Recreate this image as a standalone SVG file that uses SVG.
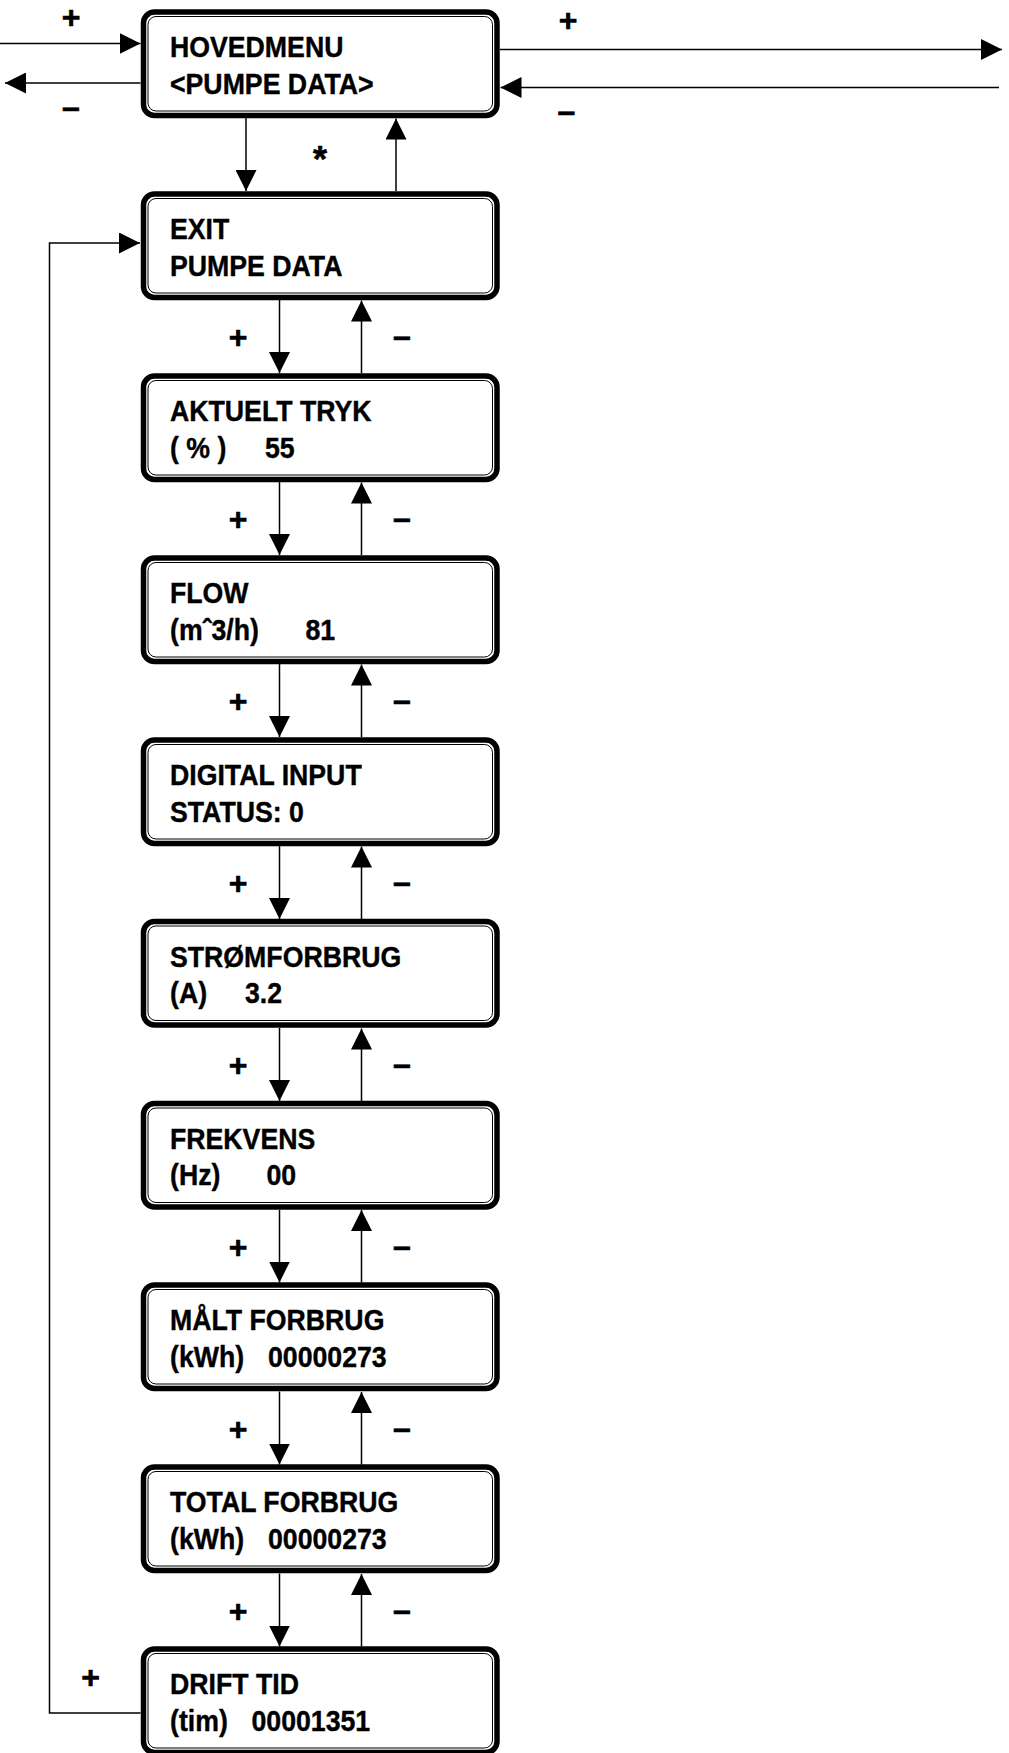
<svg xmlns="http://www.w3.org/2000/svg" width="1009" height="1753" viewBox="0 0 1009 1753">
<style>
.bo{fill:#fff;stroke:#000;stroke-width:5.5}
.bi{fill:none;stroke:#000;stroke-width:1}
.t{font-family:"Liberation Sans",Arial,sans-serif;font-weight:bold;font-size:30px;fill:#000;stroke:#000;stroke-width:0.4}
.l{font-family:"Liberation Sans",Arial,sans-serif;font-weight:bold;font-size:32px;fill:#000;stroke:#000;stroke-width:0.6;text-anchor:middle}
.s{font-size:36px}
.c{fill:none;stroke:#000;stroke-width:1.5;marker-end:url(#ah)}
</style>
<defs>
<marker id="ah" markerUnits="userSpaceOnUse" markerWidth="21" markerHeight="21" refX="21" refY="10.5" orient="auto" viewBox="0 0 21 21">
<path d="M0,0 L21,10.5 L0,21 Z" fill="#000"/>
</marker>
</defs>
<rect width="1009" height="1753" fill="#fff"/>

<g id="connectors">
<line class="c" x1="0" y1="43.5" x2="140.5" y2="43.5"/>
<line class="c" x1="140.5" y1="83" x2="5" y2="83"/>
<line class="c" x1="500" y1="49.5" x2="1002" y2="49.5"/>
<line class="c" x1="999" y1="87.5" x2="500.5" y2="87.5"/>
<line class="c" x1="246" y1="118" x2="246" y2="191"/>
<line class="c" x1="396" y1="191" x2="396" y2="118.5"/>
<path class="c" d="M140.5,1713 H49.5 V243 H140"/>
<line class="c" x1="279.5" y1="300" x2="279.5" y2="373"/>
<line class="c" x1="361.5" y1="373" x2="361.5" y2="300.5"/>
<line class="c" x1="279.5" y1="482" x2="279.5" y2="555"/>
<line class="c" x1="361.5" y1="555" x2="361.5" y2="482.5"/>
<line class="c" x1="279.5" y1="664" x2="279.5" y2="737"/>
<line class="c" x1="361.5" y1="737" x2="361.5" y2="664.5"/>
<line class="c" x1="279.5" y1="846" x2="279.5" y2="919"/>
<line class="c" x1="361.5" y1="919" x2="361.5" y2="846.5"/>
<line class="c" x1="279.5" y1="1028" x2="279.5" y2="1101"/>
<line class="c" x1="361.5" y1="1101" x2="361.5" y2="1028.5"/>
<line class="c" x1="279.5" y1="1210" x2="279.5" y2="1282.5"/>
<line class="c" x1="361.5" y1="1282.5" x2="361.5" y2="1210"/>
<line class="c" x1="279.5" y1="1391.5" x2="279.5" y2="1464.5"/>
<line class="c" x1="361.5" y1="1464.5" x2="361.5" y2="1392"/>
<line class="c" x1="279.5" y1="1573.5" x2="279.5" y2="1646.5"/>
<line class="c" x1="361.5" y1="1646.5" x2="361.5" y2="1574"/>
</g>

<g id="labels">
<text class="l" x="71" y="28">+</text>
<text class="l" x="71" y="117.5">–</text>
<text class="l" x="568" y="31">+</text>
<text class="l" x="566.5" y="121.5">–</text>
<text class="l s" x="320" y="172">*</text>
<text class="l" x="90.5" y="1688">+</text>
<text class="l" x="238" y="348">+</text><text class="l" x="402" y="347">–</text>
<text class="l" x="238" y="530">+</text><text class="l" x="402" y="529">–</text>
<text class="l" x="238" y="712">+</text><text class="l" x="402" y="711">–</text>
<text class="l" x="238" y="893.5">+</text><text class="l" x="402" y="892.5">–</text>
<text class="l" x="238" y="1075.5">+</text><text class="l" x="402" y="1074.5">–</text>
<text class="l" x="238" y="1257.5">+</text><text class="l" x="402" y="1256.5">–</text>
<text class="l" x="238" y="1439.5">+</text><text class="l" x="402" y="1438.5">–</text>
<text class="l" x="238" y="1621.5">+</text><text class="l" x="402" y="1620.5">–</text>
</g>

<g id="n0">
<rect class="bo" x="143.5" y="12" width="353.5" height="103.5" rx="11"/>
<rect class="bi" x="148" y="16.5" width="344.5" height="94.5" rx="8"/>
<text class="t" transform="translate(170 57) scale(.89 1)">HOVEDMENU</text>
<text class="t" transform="translate(170 93.5) scale(.89 1)">&lt;PUMPE DATA&gt;</text>
</g>
<g id="n1">
<rect class="bo" x="143.5" y="194" width="353.5" height="103.5" rx="11"/>
<rect class="bi" x="148" y="198.5" width="344.5" height="94.5" rx="8"/>
<text class="t" transform="translate(170 239) scale(.89 1)">EXIT</text>
<text class="t" transform="translate(170 275.5) scale(.89 1)">PUMPE DATA</text>
</g>
<g id="n2">
<rect class="bo" x="143.5" y="376" width="353.5" height="103.5" rx="11"/>
<rect class="bi" x="148" y="380.5" width="344.5" height="94.5" rx="8"/>
<text class="t" transform="translate(170 421) scale(.89 1)">AKTUELT TRYK</text>
<text class="t" transform="translate(170 457.5) scale(.89 1)">( % )</text>
<text class="t" transform="translate(265 457.5) scale(.89 1)">55</text>
</g>
<g id="n3">
<rect class="bo" x="143.5" y="558" width="353.5" height="103.5" rx="11"/>
<rect class="bi" x="148" y="562.5" width="344.5" height="94.5" rx="8"/>
<text class="t" transform="translate(170 603) scale(.89 1)">FLOW</text>
<text class="t" transform="translate(170 639.5) scale(.89 1)">(mˆ3/h)</text>
<text class="t" transform="translate(305.5 639.5) scale(.89 1)">81</text>
</g>
<g id="n4">
<rect class="bo" x="143.5" y="740" width="353.5" height="103.5" rx="11"/>
<rect class="bi" x="148" y="744.5" width="344.5" height="94.5" rx="8"/>
<text class="t" transform="translate(170 785) scale(.89 1)">DIGITAL INPUT</text>
<text class="t" transform="translate(170 821.5) scale(.89 1)">STATUS: 0</text>
</g>
<g id="n5">
<rect class="bo" x="143.5" y="921.5" width="353.5" height="103.5" rx="11"/>
<rect class="bi" x="148" y="926" width="344.5" height="94.5" rx="8"/>
<text class="t" transform="translate(170 966.5) scale(.89 1)">STRØMFORBRUG</text>
<text class="t" transform="translate(170 1003) scale(.89 1)">(A)</text>
<text class="t" transform="translate(245 1003) scale(.89 1)">3.2</text>
</g>
<g id="n6">
<rect class="bo" x="143.5" y="1103.5" width="353.5" height="103.5" rx="11"/>
<rect class="bi" x="148" y="1108" width="344.5" height="94.5" rx="8"/>
<text class="t" transform="translate(170 1148.5) scale(.89 1)">FREKVENS</text>
<text class="t" transform="translate(170 1185) scale(.89 1)">(Hz)</text>
<text class="t" transform="translate(266.5 1185) scale(.89 1)">00</text>
</g>
<g id="n7">
<rect class="bo" x="143.5" y="1285" width="353.5" height="103.5" rx="11"/>
<rect class="bi" x="148" y="1289.5" width="344.5" height="94.5" rx="8"/>
<text class="t" transform="translate(170 1330) scale(.89 1)">MÅLT FORBRUG</text>
<text class="t" transform="translate(170 1366.5) scale(.89 1)">(kWh)</text>
<text class="t" transform="translate(268 1366.5) scale(.89 1)">00000273</text>
</g>
<g id="n8">
<rect class="bo" x="143.5" y="1467" width="353.5" height="103.5" rx="11"/>
<rect class="bi" x="148" y="1471.5" width="344.5" height="94.5" rx="8"/>
<text class="t" transform="translate(170 1512) scale(.89 1)">TOTAL FORBRUG</text>
<text class="t" transform="translate(170 1548.5) scale(.89 1)">(kWh)</text>
<text class="t" transform="translate(268 1548.5) scale(.89 1)">00000273</text>
</g>
<g id="n9">
<rect class="bo" x="143.5" y="1649" width="353.5" height="103.5" rx="11"/>
<rect class="bi" x="148" y="1653.5" width="344.5" height="94.5" rx="8"/>
<text class="t" transform="translate(170 1694) scale(.89 1)">DRIFT TID</text>
<text class="t" transform="translate(170 1730.5) scale(.89 1)">(tim)</text>
<text class="t" transform="translate(251.5 1730.5) scale(.89 1)">00001351</text>
</g>
</svg>
